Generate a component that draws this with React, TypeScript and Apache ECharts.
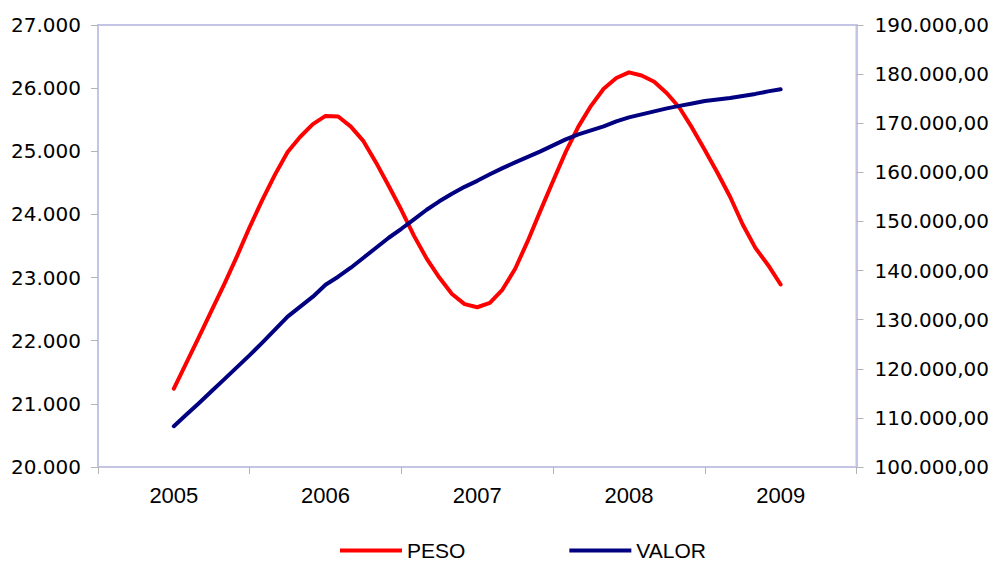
import React, { useEffect, useRef } from "react";
import * as echarts from "echarts";

const years = ["2005", "2006", "2007", "2008", "2009"];

// Monthly values, Jan 2005 .. Jan 2009 (49 points)
const pesoValues = [
  21241, 21652, 22063, 22483, 22900, 23340, 23800, 24230, 24630, 24990, 25230, 25430,
  25560, 25550, 25390, 25160, 24820, 24450, 24070, 23660, 23300, 23000, 22740, 22580,
  22530, 22600, 22810, 23140, 23580, 24060, 24530, 24990, 25390, 25720, 25990, 26160,
  26250, 26200, 26100, 25920, 25690, 25370, 25020, 24660, 24280, 23840, 23470, 23200,
  22890,
];

const valorValues = [
  108300, 110680, 113040, 115460, 117900, 120340, 122780, 125330, 127970, 130610, 132650, 134680,
  137120, 138750, 140580, 142610, 144650, 146680, 148510, 150440, 152380, 154100, 155630, 157050,
  158270, 159600, 160860, 162040, 163150, 164270, 165490, 166710, 167730, 168540, 169360, 170370,
  171190, 171800, 172410, 173020, 173530, 174030, 174540, 174850, 175150, 175560, 175970, 176480,
  176920,
];

const seriesNames = ["PESO", "VALOR"];

const fmtThousands = (v: number) =>
  Math.round(v)
    .toString()
    .replace(/\B(?=(\d{3})+(?!\d))/g, ".");

const FRAME = "#c4c4e4";
const TICK = "#b4b4b4";

export default function App() {
  const ref = useRef<HTMLDivElement>(null);

  useEffect(() => {
    if (!ref.current) return;
    const chart = echarts.init(ref.current, undefined, { renderer: "svg" });
    // value x axis: months from Jul 2004 (0) to Jul 2009 (60); Jan 2005 = 6
    const toPts = (arr: number[]) => arr.map((v, i) => [6 + i, v]);
    chart.setOption({
      animation: false,
      backgroundColor: "#ffffff",
      grid: {
        left: 98,
        right: 135,
        top: 25,
        bottom: 99,
        show: true,
        borderColor: FRAME,
        borderWidth: 2,
        backgroundColor: "transparent",
      },
      legend: {
        data: [
          { name: seriesNames[0], icon: "rect" },
          { name: seriesNames[1], icon: "rect" },
        ],
        left: 340,
        top: 540,
        padding: 0,
        itemWidth: 62,
        itemHeight: 4,
        itemGap: 104,
        textStyle: {
          fontFamily: "Liberation Sans",
          fontSize: 21,
          color: "#000000",
        },
      },
      xAxis: [
        {
          type: "category",
          data: years,
          boundaryGap: true,
          axisLine: { show: true, lineStyle: { color: FRAME, width: 2 } },
          axisTick: { show: true, length: 7, lineStyle: { color: TICK, width: 1 } },
          axisLabel: {
            margin: 17,
            fontFamily: "Liberation Sans",
            fontSize: 22,
            color: "#000000",
          },
          splitLine: { show: false },
        },
        {
          type: "value",
          min: 0,
          max: 60,
          show: false,
        },
      ],
      yAxis: [
        {
          type: "value",
          min: 20000,
          max: 27000,
          interval: 1000,
          position: "left",
          axisLine: { show: true, lineStyle: { color: FRAME, width: 2 } },
          axisTick: { show: true, length: 7, lineStyle: { color: TICK, width: 1 } },
          axisLabel: {
            margin: 17,
            fontFamily: "DejaVu Sans",
            fontSize: 20,
            color: "#000000",
            formatter: (v: number) => fmtThousands(v),
          },
          splitLine: { show: false },
        },
        {
          type: "value",
          min: 100000,
          max: 190000,
          interval: 10000,
          position: "right",
          axisLine: { show: true, lineStyle: { color: FRAME, width: 2 } },
          axisTick: { show: true, length: 7, lineStyle: { color: TICK, width: 1 } },
          axisLabel: {
            margin: 18,
            fontFamily: "DejaVu Sans",
            fontSize: 20,
            color: "#000000",
            formatter: (v: number) => fmtThousands(v) + ",00",
          },
          splitLine: { show: false },
        },
      ],
      series: [
        {
          name: seriesNames[0],
          type: "line",
          xAxisIndex: 1,
          yAxisIndex: 0,
          data: toPts(pesoValues),
          showSymbol: false,
          symbol: "none",
          smooth: false,
          lineStyle: { color: "#ff0000", width: 4, cap: "round", join: "round" },
          itemStyle: { color: "#ff0000" },
        },
        {
          name: seriesNames[1],
          type: "line",
          xAxisIndex: 1,
          yAxisIndex: 1,
          data: toPts(valorValues),
          showSymbol: false,
          symbol: "none",
          smooth: false,
          lineStyle: { color: "#000080", width: 4, cap: "round", join: "round" },
          itemStyle: { color: "#000080" },
        },
      ],
    });
    return () => chart.dispose();
  }, []);

  return (
    <div
      ref={ref}
      style={{ position: "fixed", left: 0, top: 0, width: 992, height: 566 }}
    />
  );
}
